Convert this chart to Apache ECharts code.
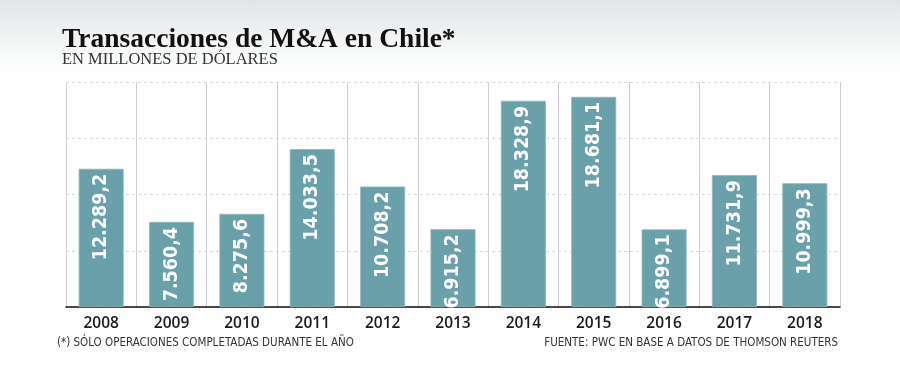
<!DOCTYPE html>
<html>
<head>
<meta charset="utf-8">
<script src="https://cdn.jsdelivr.net/npm/echarts@6/dist/echarts.min.js"></script>
<style>
html,body{margin:0;padding:0;}
body{width:900px;height:368px;background:linear-gradient(to bottom,#e2e5e7 0px,#eef0f1 30px,#fafbfb 60px,#ffffff 80px,#ffffff 368px);}
#c{width:900px;height:368px;}
</style>
</head>
<body>
<div id="c"></div>
<script>
const years = ['2008','2009','2010','2011','2012','2013','2014','2015','2016','2017','2018'];
const values = [12289.2, 7560.4, 8275.6, 14033.5, 10708.2, 6915.2, 18328.9, 18681.1, 6899.1, 11731.9, 10999.3];
const yMin = 0, yMax = 20000, yInterval = 5000;
const titleText = 'Transacciones de M&A en Chile*';
const subtitleText = 'EN MILLONES DE DÓLARES';
const noteText = '(*) SÓLO OPERACIONES COMPLETADAS DURANTE EL AÑO';
const sourceText = 'FUENTE: PWC EN BASE A DATOS DE THOMSON REUTERS';

function fmt(v){
  const parts = v.toFixed(1).split('.');
  const intPart = parts[0].replace(/\B(?=(\d{3})+(?!\d))/g,'.');
  return intPart + ',' + parts[1];
}
const COND = "'DejaVu Sans Condensed', 'Roboto', sans-serif";

const chart = echarts.init(document.getElementById('c'), null, {renderer:'canvas'});
chart.setOption({
  backgroundColor:'transparent',
  animation:false,
  title:[
    {text:titleText, left:62, top:26, padding:0, textStyle:{fontFamily:'Liberation Serif', fontWeight:'bold', fontSize:27.5, color:'#111'}},
    {text:subtitleText, left:62, top:51, padding:0, textStyle:{fontFamily:'Liberation Serif', fontWeight:'normal', fontSize:16.5, color:'#333'}},
    {text:noteText, left:57, top:337, padding:0, textStyle:{fontFamily:COND, fontWeight:'normal', fontSize:11.5, color:'#333'}},
    {text:sourceText, right:62, top:337, padding:0, textStyle:{fontFamily:COND, fontWeight:'normal', fontSize:11.5, color:'#333'}}
  ],
  grid:{left:66, right:60, top:82, bottom:61, containLabel:false},
  xAxis:{
    type:'category', data:years, boundaryGap:true,
    axisLine:{show:true, lineStyle:{color:'#111', width:1.5}},
    axisTick:{show:false},
    axisLabel:{margin:9, fontFamily:'Open Sans', fontSize:15.5, fontWeight:600, color:'#1a1a1a'},
    splitLine:{show:true, lineStyle:{color:'#cfcfcf', width:1}}
  },
  yAxis:{
    type:'value', min:yMin, max:yMax, interval:yInterval,
    axisLine:{show:false}, axisTick:{show:false}, axisLabel:{show:false},
    splitLine:{show:true, lineStyle:{color:'#d8d8d8', type:[3,3], width:1}}
  },
  series:[{
    type:'bar', data:values, barWidth:45,
    itemStyle:{color:'#6aa0a9', borderColor:'#8fb8be', borderWidth:0.8},
    label:{
      show:true, position:'insideTop', rotate:90, align:'right', verticalAlign:'middle',
      distance:5, formatter:(p)=>fmt(p.value),
      fontFamily:COND, fontWeight:'bold', fontSize:19.5, color:'#ffffff'
    }
  }]
});
</script>
</body>
</html>
